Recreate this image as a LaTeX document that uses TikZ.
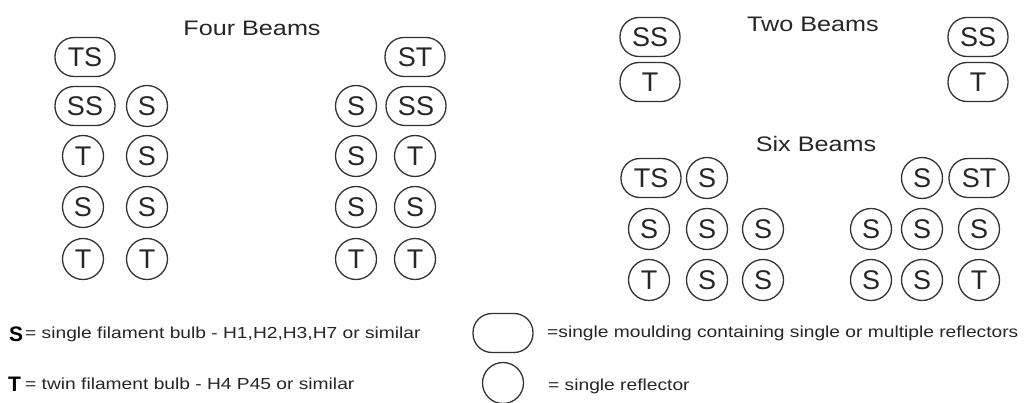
\documentclass[tikz,border=0pt]{standalone}
\usepackage{fontspec}
\setmainfont{Liberation Sans}
\usepackage{graphicx}
\newcommand{\hstretch}[1]{\scalebox{1.2}[1]{#1}}
\begin{document}
\begin{tikzpicture}[x=1pt,y=-1pt,
  lamp/.style={draw=black!80,line width=1.3pt,inner sep=0pt,text=black!85,
    font=\fontsize{27}{27}\selectfont},
  refl/.style={lamp,circle,minimum size=41pt},
  mould/.style={lamp,rectangle,rounded corners=19pt,minimum width=60pt,minimum height=39pt},
  title/.style={inner sep=0pt,text=black!85,font=\fontsize{21}{21}\selectfont},
  legtext/.style={inner sep=0pt,anchor=west,text=black!85,font=\fontsize{16}{16}\selectfont},
  legletter/.style={inner sep=0pt,anchor=west,text=black,font=\fontsize{21}{21}\selectfont\bfseries}]
\useasboundingbox[fill=white] (0,0) rectangle (1024,403);
% Four Beams
\node[title] (t4) at (252,28) {\hstretch{Four Beams}};
\node[mould] (a1) at (85,57) {TS};
\node[mould] (a2) at (85,106) {SS};
\node[refl] (a3) at (147,106) {S};
\node[refl] (a4) at (83,156) {T};
\node[refl] (a5) at (147,156) {S};
\node[refl] (a6) at (83,207) {S};
\node[refl] (a7) at (147,207) {S};
\node[refl] (a8) at (83,259) {T};
\node[refl] (a9) at (147,259) {T};
\node[mould] (b1) at (415,57) {ST};
\node[refl] (b2) at (356,106) {S};
\node[mould] (b3) at (416,106) {SS};
\node[refl] (b4) at (356,156) {S};
\node[refl] (b5) at (415,156) {T};
\node[refl] (b6) at (356,207) {S};
\node[refl] (b7) at (415,207) {S};
\node[refl] (b8) at (356,259) {T};
\node[refl] (b9) at (415,259) {T};
% Two Beams
\node[title] (t2) at (813,24) {\hstretch{Two Beams}};
\node[mould] (c1) at (650,37) {SS};
\node[mould] (c2) at (650,82) {T};
\node[mould] (d1) at (978,37) {SS};
\node[mould] (d2) at (978,82) {T};
% Six Beams
\node[title] (t6) at (816,144) {\hstretch{Six Beams}};
\node[mould] (e1) at (651,178) {TS};
\node[refl] (e2) at (707,178) {S};
\node[refl] (e3) at (649,229) {S};
\node[refl] (e4) at (707,229) {S};
\node[refl] (e5) at (763,229) {S};
\node[refl] (e6) at (649,280) {T};
\node[refl] (e7) at (707,280) {S};
\node[refl] (e8) at (763,280) {S};
\node[refl] (f1) at (922,178) {S};
\node[mould] (f2) at (979,178) {ST};
\node[refl] (f3) at (871,229) {S};
\node[refl] (f4) at (922,229) {S};
\node[refl] (f5) at (979,229) {S};
\node[refl] (f6) at (871,280) {S};
\node[refl] (f7) at (922,280) {S};
\node[refl] (f8) at (979,280) {T};
% Legend
\node[legletter] (ls) at (9,334) {S};
\node[legtext] (lst) at (25,334) {\hstretch{= single filament bulb - H1,H2,H3,H7 or similar}};
\node[legletter] (lt) at (8,384) {T};
\node[legtext] (ltt) at (25,384) {\hstretch{= twin filament bulb - H4 P45 or similar}};
\node[mould] (lm) at (503,333) {};
\node[legtext] (lmt) at (547,333) {\hstretch{=single moulding containing single or multiple reflectors}};
\node[refl] (lc) at (503,383) {};
\node[legtext] (lct) at (548,386) {\hstretch{= single reflector}};
\end{tikzpicture}
\end{document}
